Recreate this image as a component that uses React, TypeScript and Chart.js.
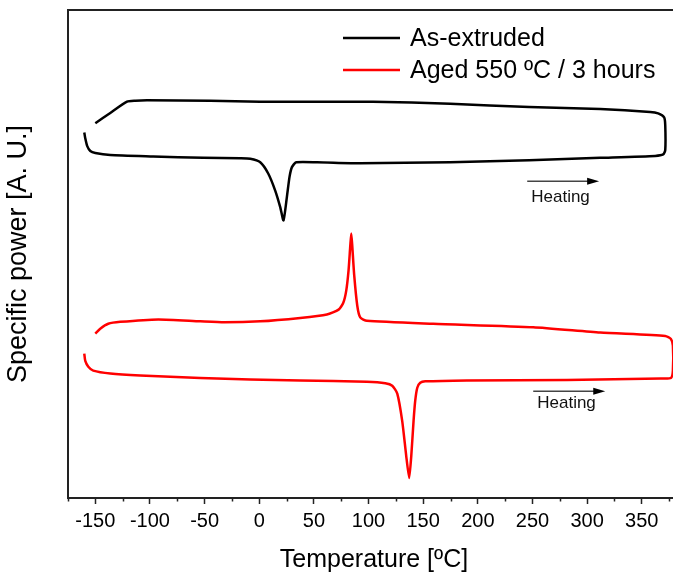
import { useEffect, useRef } from "react";
import { Chart, registerables } from "chart.js";

Chart.register(...registerables);

// ---- data (temperature in ºC, specific power in arbitrary units) ----
const seriesNames = ["As-extruded", "Aged 550 ºC / 3 hours"];
const seriesColors = ["#000000", "#ff0000"];

const asExtrudedTemp = [
  -160.1, -159.2, -157.4, -154.6, -150.0, -136.3, -97.0, -51.2, -17.4, -8.2,
  0.9, 8.2, 14.6, 19.2, 22.2, 25.3, 27.7, 29.9, 33.8, 53.1,
  92.4, 174.7, 247.0, 312.0, 362.3, 369.6, 371.5, 371.5, 370.5, 365.0,
  357.7, 312.0, 247.0, 174.7, 104.0, 0.9, -44.8, -102.7, -113.4, -121.0,
  -136.3, -150.0,
];
const asExtrudedPower = [
  74.9, 73.7, 72.1, 71.1, 70.7, 70.3, 70.0, 69.7, 69.6, 69.5,
  68.8, 66.5, 63.0, 59.6, 56.9, 61.7, 65.8, 67.8, 68.8, 68.8,
  68.6, 68.8, 69.2, 69.7, 70.1, 70.4, 71.3, 76.4, 78.0, 78.8,
  79.1, 79.7, 80.1, 80.8, 81.2, 81.2, 81.4, 81.5, 81.4, 81.2,
  78.9, 76.8,
];

const agedTemp = [
  -160.1, -159.2, -156.4, -151.9, -136.3, -108.9, -54.0, -8.2, 37.5, 98.5,
  115.3, 121.7, 126.3, 130.8, 134.5, 137.2, 139.1, 141.2, 142.7, 144.6,
  147.3, 151.9, 190.0, 281.5, 367.5, 376.7, 378.5, 378.5, 376.7, 371.5,
  312.0, 250.7, 159.2, 98.5, 92.4, 89.7, 86.9, 85.1, 84.2, 83.3,
  81.7, 79.6, 76.9, 72.6, 61.9, 37.5, 0.9, -32.0, -54.0, -92.4,
  -127.2, -138.2, -145.5, -150.0,
];
const agedPower = [
  29.6, 28.1, 26.9, 26.1, 25.5, 25.1, 24.6, 24.3, 24.1, 23.8,
  23.5, 23.0, 21.4, 15.8, 8.6, 4.1, 8.6, 15.8, 19.9, 22.6,
  23.6, 23.9, 24.1, 24.2, 24.5, 24.6, 26.1, 31.2, 32.6, 33.2,
  33.9, 35.0, 35.7, 36.3, 37.0, 39.4, 45.6, 51.7, 54.2, 51.7,
  46.6, 42.5, 40.0, 38.6, 37.6, 36.9, 36.2, 36.0, 36.2, 36.6,
  36.1, 35.7, 34.7, 33.7,
];

const xTickValues = [-150, -100, -50, 0, 50, 100, 150, 200, 250, 300, 350];
const xMinorTickValues = [-175, -125, -75, -25, 25, 75, 125, 175, 225, 275, 325, 375];

// "Heating" arrows (data coordinates)
const heatingLabel = "Heating";
const heatingArrowStart = [245.2, 250.7];
const heatingArrowEnd = [311.0, 316.6];
const heatingArrowLevel = [64.9, 21.9];
const heatingTextLevel = [61.7, 19.4];

const FONT = "'Liberation Sans', Arial, Helvetica, sans-serif";

const decorPlugin = {
  id: "decor",
  afterDraw(chart: any) {
    const { ctx, chartArea, scales } = chart;
    const xs = scales.x;
    const ys = scales.y;
    ctx.save();
    // frame (top + right)
    ctx.strokeStyle = "#222";
    ctx.lineWidth = 2;
    ctx.beginPath();
    ctx.moveTo(chartArea.left, chartArea.top);
    ctx.lineTo(chartArea.right, chartArea.top);
    ctx.lineTo(chartArea.right, chartArea.bottom);
    ctx.stroke();

    // minor ticks
    ctx.lineWidth = 1.5;
    ctx.beginPath();
    xMinorTickValues.forEach((v) => {
      const px = Math.round(xs.getPixelForValue(v)) + 0.5;
      ctx.moveTo(px, chartArea.bottom);
      ctx.lineTo(px, chartArea.bottom + 3.5);
    });
    ctx.stroke();

    // legend
    const legendX0 = 343;
    const legendX1 = 400;
    const legendTextX = 410;
    const legendY = [38, 70];
    ctx.font = `25px ${FONT}`;
    ctx.textBaseline = "middle";
    ctx.textAlign = "left";
    seriesNames.forEach((name, i) => {
      ctx.strokeStyle = seriesColors[i];
      ctx.lineWidth = 2.5;
      ctx.beginPath();
      ctx.moveTo(legendX0, legendY[i]);
      ctx.lineTo(legendX1, legendY[i]);
      ctx.stroke();
      ctx.fillStyle = "#000";
      ctx.fillText(name, legendTextX, legendY[i] + 1);
    });

    // heating arrows
    heatingArrowStart.forEach((t0, i) => {
      const x0 = xs.getPixelForValue(t0);
      const x1 = xs.getPixelForValue(heatingArrowEnd[i]);
      const y = ys.getPixelForValue(heatingArrowLevel[i]);
      ctx.strokeStyle = "#444";
      ctx.lineWidth = 1.5;
      ctx.beginPath();
      ctx.moveTo(x0, y);
      ctx.lineTo(x1 - 8, y);
      ctx.stroke();
      ctx.fillStyle = "#000";
      ctx.beginPath();
      ctx.moveTo(x1, y);
      ctx.lineTo(x1 - 12, y - 3.5);
      ctx.lineTo(x1 - 12, y + 3.5);
      ctx.closePath();
      ctx.fill();
      const ty = ys.getPixelForValue(heatingTextLevel[i]);
      ctx.font = `17px ${FONT}`;
      ctx.textAlign = "left";
      ctx.textBaseline = "middle";
      ctx.fillStyle = "#111";
      ctx.fillText(heatingLabel, x0 + 4, ty);
    });
    ctx.restore();
  },
};

export default function App() {
  const canvasRef = useRef<HTMLCanvasElement | null>(null);

  useEffect(() => {
    const canvas = canvasRef.current;
    if (!canvas) return;
    const chart = new Chart(canvas, {
      type: "line",
      data: {
        datasets: [
          {
            label: seriesNames[0],
            data: asExtrudedTemp.map((t, i) => ({ x: t, y: asExtrudedPower[i] })),
            borderColor: seriesColors[0],
            borderWidth: 2.5,
            pointRadius: 0,
            tension: 0.2,
            fill: false,
          },
          {
            label: seriesNames[1],
            data: agedTemp.map((t, i) => ({ x: t, y: agedPower[i] })),
            borderColor: seriesColors[1],
            borderWidth: 2.5,
            pointRadius: 0,
            tension: 0.2,
            fill: false,
          },
        ],
      },
      options: {
        animation: false,
        responsive: false,
        layout: { padding: { top: 10, right: 10, left: 0, bottom: 0 } },
        plugins: {
          legend: { display: false },
          tooltip: { enabled: false },
        },
        scales: {
          x: {
            type: "linear",
            min: -175,
            max: 385,
            afterFit: (s: any) => {
              s.height = 77;
            },
            afterBuildTicks: (s: any) => {
              s.ticks = xTickValues.map((v) => ({ value: v }));
            },
            ticks: {
              font: { family: FONT, size: 20 },
              color: "#000",
              padding: 5,
              maxRotation: 0,
              autoSkip: false,
            },
            grid: {
              display: true,
              drawOnChartArea: false,
              drawTicks: true,
              tickLength: 6,
              tickColor: "#222",
              tickWidth: 1.5,
            },
            border: { display: true, color: "#222", width: 2 },
            title: {
              display: true,
              text: "Temperature [ºC]",
              font: { family: FONT, size: 25 },
              color: "#000",
              padding: { top: 0, bottom: 0 },
            },
          },
          y: {
            type: "linear",
            min: 0,
            max: 100,
            afterFit: (s: any) => {
              s.width = 68;
            },
            ticks: { display: false },
            grid: { display: false, drawTicks: false },
            border: { display: true, color: "#222", width: 2 },
            title: {
              display: true,
              text: "Specific power [A. U.]",
              font: { family: FONT, size: 27 },
              color: "#000",
              padding: { top: 2, bottom: 0 },
            },
          },
        },
      },
      plugins: [decorPlugin],
    } as any);
    return () => chart.destroy();
  }, []);

  return (
    <div
      style={{
        position: "fixed",
        left: 0,
        top: 0,
        width: 673,
        height: 575,
        overflow: "hidden",
        background: "#fff",
      }}
    >
      <canvas ref={canvasRef} width={690} height={575} style={{ display: "block" }} />
    </div>
  );
}
